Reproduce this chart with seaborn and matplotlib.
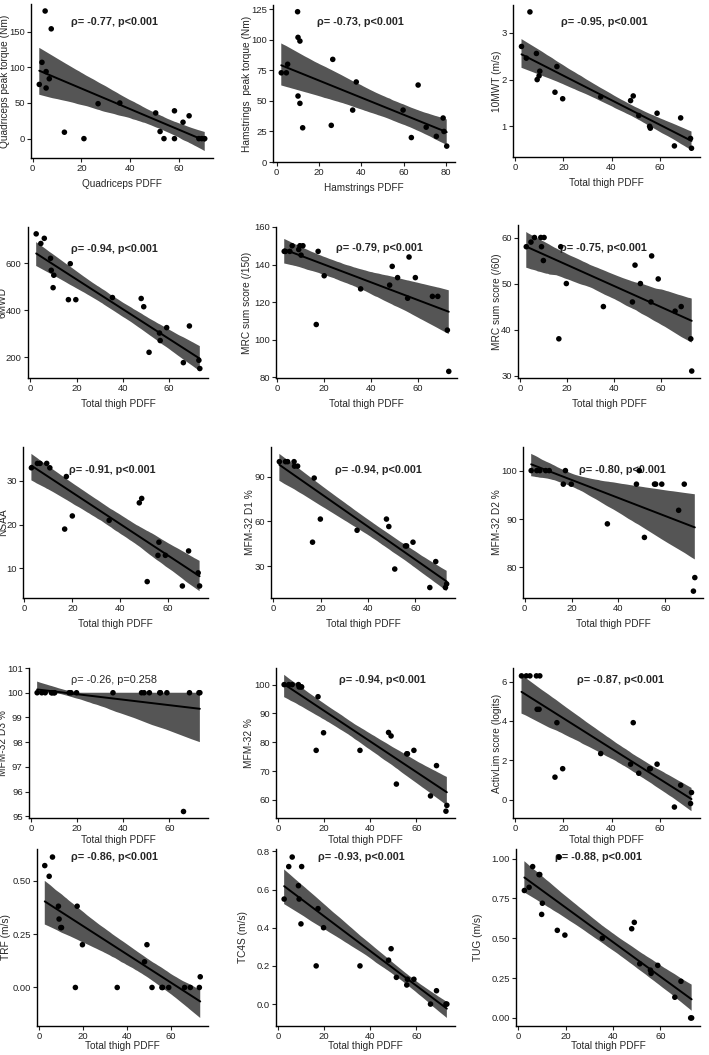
import numpy as np
import pandas as pd
import seaborn as sns
import matplotlib.pyplot as plt

# ---- data ----
quad_pdff = [2.7, 3.8, 5.1, 5.5, 5.5, 6.8, 7.6, 13.0, 21.0, 26.8, 35.7, 50.4, 52.2, 53.8, 58.1, 58.1, 61.6, 64.1, 68.1, 69.3, 70.5]
quad_torque = [76, 107, 179, 94, 71, 84, 154, 9, 0, 49, 50, 36, 10, 0, 39, 0, 23, 32, 0, 0, 0]

ham_pdff = [2.2, 4.6, 5.2, 9.9, 10.1, 11.0, 10.1, 11.0, 12.3, 25.8, 26.5, 35.9, 37.6, 59.7, 63.6, 66.8, 70.6, 75.4, 78.6, 79.0, 80.3]
ham_torque = [73, 73, 80, 123, 102, 99, 54, 48, 28, 30, 84, 42.5, 65.5, 42.5, 20, 63, 28.5, 21, 36, 25, 13]

thigh = [2.6, 4.6, 6.1, 8.8, 9.1, 9.9, 10.2, 16.5, 17.3, 19.7, 35.5, 47.9, 49.0, 51.3, 55.8, 56.1, 58.9, 66.1, 68.7, 72.8, 73.2]
mwt10 = [2.71, 2.46, 3.45, 2.56, 2.00, 2.08, 2.18, 1.73, 2.28, 1.59, 1.63, 1.55, 1.65, 1.23, 1.00, 0.96, 1.28, 0.58, 1.18, 0.74, 0.53]
mwd6 = [725, 684, 706, 621, 570, 496, 549, 445, 598, 445, 454, 450, 415, 221, 303, 271, 326, 177, 333, 187, 152]
mrc60 = [58, 59, 60, 60, 58, 55, 60, 38, 58, 50, 45, 46, 54, 50, 46, 56, 51, 44, 45, 38, 31]
mfm32 = [100, 100, 100, 100, 99.2, 99.2, 99.2, 77.2, 95.8, 83.3, 77.2, 83.4, 82.2, 65.5, 76, 76, 77.2, 61.4, 71.9, 56.1, 58.1]
activlim = [6.29, 6.29, 6.29, 6.29, 4.59, 4.59, 6.29, 1.14, 3.91, 1.57, 2.34, 1.80, 3.91, 1.34, 1.57, 1.57, 1.80, -0.38, 0.73, -0.20, 0.36]
mfm_d3 = [100, 100, 100, 100, 100, 100, 100, 100, 100, 100, 100, 100, 100, 100, 100, 100, 100, 95.2, 100, 100, 100]
trf = [0.57, 0.52, 0.61, 0.38, 0.32, 0.28, 0.28, 0.00, 0.38, 0.20, 0.00, 0.12, 0.20, 0.00, 0.00, 0.00, 0.00, 0.00, 0.00, 0.00, 0.05]
tc4s = [0.55, 0.72, 0.77, 0.62, 0.55, 0.42, 0.72, 0.20, 0.50, 0.40, 0.20, 0.23, 0.29, 0.14, 0.10, 0.13, 0.13, 0.00, 0.07, 0.00, 0.00]
tug = [0.80, 0.82, 0.95, 0.90, 0.90, 0.65, 0.72, 0.55, 1.01, 0.52, 0.50, 0.56, 0.60, 0.34, 0.30, 0.28, 0.33, 0.13, 0.23, 0.00, 0.00]

mrc150_pdff = [2.9, 3.4, 5.3, 6.3, 9.1, 9.6, 10.1, 10.9, 16.6, 17.4, 20.0, 35.6, 48.0, 49.1, 51.4, 55.7, 56.3, 59.0, 66.3, 68.6, 72.7, 73.3]
mrc150 = [147, 147, 147, 150, 148, 150, 145, 150, 108, 147, 134, 127, 129, 139, 133, 122, 144, 133, 123, 123, 105, 83]

nsaa_pdff = [2.9, 5.4, 6.5, 9.3, 10.6, 16.8, 17.5, 20.0, 35.4, 48.0, 49.0, 51.3, 55.8, 56.2, 58.9, 66.0, 68.6, 72.6, 73.2]
nsaa = [33, 34, 34, 34, 33, 19, 31, 22, 21, 25, 26, 7, 13, 16, 13, 6, 14, 9, 6]

d1_pdff = [2.6, 5.2, 6.1, 8.8, 9.0, 10.3, 16.6, 17.3, 19.9, 35.4, 47.8, 48.8, 51.3, 55.8, 56.3, 59.0, 66.1, 68.6, 72.7, 73.2]
mfm_d1 = [100, 100, 100, 100, 97, 97, 46, 89, 61.5, 54, 61.5, 56.5, 28, 43.5, 43.5, 46, 15.6, 33, 15.6, 18]

d2_pdff = [2.8, 5.2, 6.5, 9.0, 10.5, 16.5, 17.4, 19.9, 35.3, 47.7, 48.9, 51.1, 55.4, 55.9, 58.5, 65.7, 68.1, 72.0, 72.6]
mfm_d2 = [100, 100, 100, 100, 100, 97.2, 100, 97.2, 89, 97.2, 100, 86.2, 97.2, 97.2, 97.2, 91.8, 97.2, 75.1, 77.9]

# panels: x, y, x label, y label, annotation, y ticks
panels = [
    (quad_pdff, quad_torque, "Quadriceps PDFF", "Quadriceps peak torque (Nm)", "ρ= -0.77, p<0.001", [0, 50, 100, 150]),
    (ham_pdff, ham_torque, "Hamstrings PDFF", "Hamstrings  peak torque (Nm)", "ρ= -0.73, p<0.001", [0, 25, 50, 75, 100, 125]),
    (thigh, mwt10, "Total thigh PDFF", "10MWT (m/s)", "ρ= -0.95, p<0.001", [1, 2, 3]),
    (thigh, mwd6, "Total thigh PDFF", "6MWD", "ρ= -0.94, p<0.001", [200, 400, 600]),
    (mrc150_pdff, mrc150, "Total thigh PDFF", "MRC sum score (/150)", "ρ= -0.79, p<0.001", [80, 100, 120, 140, 160]),
    (thigh, mrc60, "Total thigh PDFF", "MRC sum score (/60)", "ρ= -0.75, p<0.001", [30, 40, 50, 60]),
    (nsaa_pdff, nsaa, "Total thigh PDFF", "NSAA", "ρ= -0.91, p<0.001", [10, 20, 30]),
    (d1_pdff, mfm_d1, "Total thigh PDFF", "MFM-32 D1 %", "ρ= -0.94, p<0.001", [30, 60, 90]),
    (d2_pdff, mfm_d2, "Total thigh PDFF", "MFM-32 D2 %", "ρ= -0.80, p<0.001", [80, 90, 100]),
    (thigh, mfm_d3, "Total thigh PDFF", "MFM-32 D3 %", "ρ= -0.26, p=0.258", [95, 96, 97, 98, 99, 100, 101]),
    (thigh, mfm32, "Total thigh PDFF", "MFM-32 %", "ρ= -0.94, p<0.001", [60, 70, 80, 90, 100]),
    (thigh, activlim, "Total thigh PDFF", "ActivLim score (logits)", "ρ= -0.87, p<0.001", [0, 2, 4, 6]),
    (thigh, trf, "Total thigh PDFF", "TRF (m/s)", "ρ= -0.86, p<0.001", [0.0, 0.25, 0.5]),
    (thigh, tc4s, "Total thigh PDFF", "TC4S (m/s)", "ρ= -0.93, p<0.001", [0.0, 0.2, 0.4, 0.6, 0.8]),
    (thigh, tug, "Total thigh PDFF", "TUG (m/s)", "ρ= -0.88, p<0.001", [0.0, 0.25, 0.5, 0.75, 1.0]),
]
ytick_fmt = {12: "{:.2f}", 13: "{:.1f}", 14: "{:.2f}"}

# axes boxes in pixels: left, top, right, bottom
boxes = [
    (31, 4, 213, 158), (273, 5, 455, 162), (513, 5, 700, 157),
    (28, 227, 208, 378), (276, 227, 457, 378), (518, 225, 700, 378),
    (23, 447, 208, 598), (271, 447, 455, 598), (523, 447, 703, 598),
    (29, 668, 208, 818), (276, 668, 455, 818), (513, 668, 700, 818),
    (37, 849, 208, 1026), (276, 849, 455, 1026), (516, 849, 700, 1026),
]
# y label centre, x in pixels
ylab_x = [5, 247, 497, 3, 247, 497, 3, 250, 497, 3, 249, 497, 6, 243, 478]
# annotation positions (axes fraction)
ann_pos = [
    (0.22, 0.885), (0.24, 0.89), (0.255, 0.89),
    (0.24, 0.857), (0.33, 0.864), (0.233, 0.85),
    (0.25, 0.846), (0.35, 0.846), (0.31, 0.846),
    (0.236, 0.923), (0.35, 0.923), (0.34, 0.923),
    (0.2, 0.955), (0.235, 0.955), (0.21, 0.955),
]

sns.set_style("ticks")
plt.rcParams['font.family'] = ['Liberation Sans', 'DejaVu Sans']
narrow = ['Liberation Sans Narrow', 'Liberation Sans', 'DejaVu Sans']

W, H = 709, 1055
fig = plt.figure(figsize=(W / 100, H / 100), dpi=100)

for i, (x, y, xl, yl, txt, yt) in enumerate(panels):
    l, t, r, b = boxes[i]
    ax = fig.add_axes([l / W, 1 - b / H, (r - l) / W, (b - t) / H])
    df = pd.DataFrame({"x": x, "y": y})
    sns.regplot(data=df, x="x", y="y", ax=ax, scatter=False, ci=95, seed=0,
                color="black", line_kws={"lw": 1.4, "zorder": 3})
    for coll in ax.collections:
        coll.set_facecolor("#555555")
        coll.set_alpha(1)
        coll.set_edgecolor("none")
    sns.scatterplot(data=df, x="x", y="y", ax=ax, color="black", s=16,
                    edgecolor="none", zorder=4)
    ax.margins(0.05)
    xt = [0, 20, 40, 60, 80] if i == 1 else [0, 20, 40, 60]
    ax.set_xticks(xt)
    ax.set_xticklabels([str(v) for v in xt], family=narrow, fontsize=6.8)
    ax.set_yticks(yt)
    fmt = ytick_fmt.get(i, "{:g}")
    ax.set_yticklabels([fmt.format(v) for v in yt], family=narrow, fontsize=6.8)
    pad = 4 if i < 9 else (1.5 if i < 12 else 0)
    ax.set_xlabel(xl, fontsize=7.2, family=narrow, labelpad=pad)
    ax.set_ylabel(yl, fontsize=7.3)
    ax.yaxis.set_label_coords(ylab_x[i] / W, 1 - (t + b) / 2 / H, transform=fig.transFigure)
    ax.yaxis.label.set_va("center")
    ax.tick_params(length=3, width=0.8, pad=1.5, colors="#222222")
    sns.despine(ax=ax)
    for s in ("left", "bottom"):
        ax.spines[s].set_linewidth(1.0)
        ax.spines[s].set_color("black")
    ax.text(ann_pos[i][0], ann_pos[i][1], txt, transform=ax.transAxes,
            fontsize=7.8, family=narrow,
            fontweight="normal" if i == 9 else "bold",
            va="center", ha="left")

fig.savefig("out.png", dpi=100)
